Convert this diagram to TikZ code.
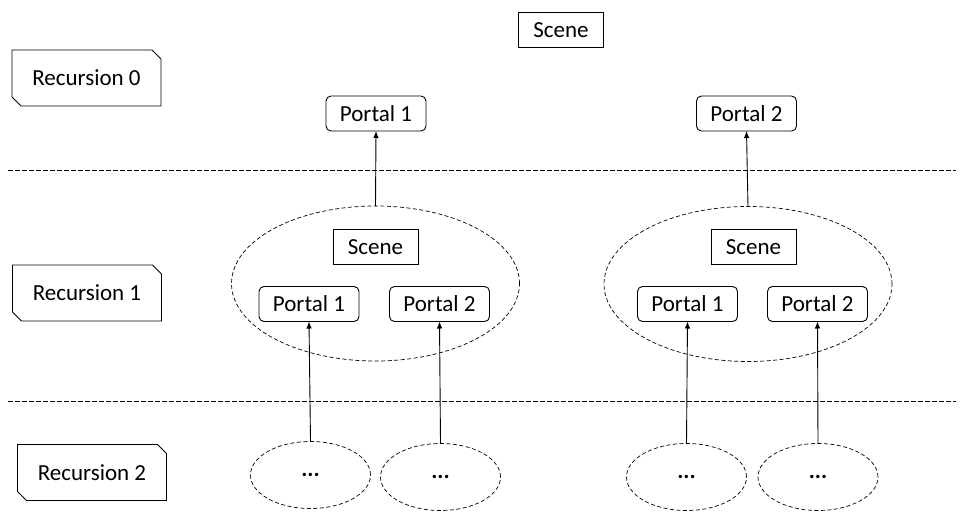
\documentclass[tikz,border=0pt]{standalone}
\usepackage{fontspec}
\setmainfont{Carlito}
\usetikzlibrary{shapes.geometric,shapes.misc,arrows.meta}
\begin{document}
\begin{tikzpicture}[x=1pt,y=-1pt,
  font=\fontsize{23}{27}\selectfont,
  every node/.style={inner sep=0pt, outer sep=0pt},
  scenebox/.style={draw, line width=0.9pt, minimum width=85pt, minimum height=35pt},
  portalbox/.style={draw, line width=0.9pt, rounded corners=5pt, minimum width=100pt, minimum height=35pt},
  recbox/.style={draw, line width=0.9pt, chamfered rectangle, chamfered rectangle corners={north east, south west},
    chamfered rectangle xsep=4.5pt, chamfered rectangle ysep=4.5pt, minimum width=149pt, minimum height=56pt},
  bigell/.style={draw, ellipse, dash pattern=on 4pt off 2.5pt, line width=0.7pt, minimum width=288pt, minimum height=155pt},
  smallell/.style={draw, ellipse, dash pattern=on 4pt off 2.5pt, line width=0.7pt, minimum width=120pt, minimum height=67pt},
  sep/.style={dash pattern=on 4.5pt off 2.5pt, line width=0.8pt},
  conn/.style={line width=0.9pt, -{Latex[length=7pt,width=5.5pt]}}
]
\useasboundingbox (0,0) rectangle (964,525);

% separators
\draw[sep] (8,170) -- (956,170);
\draw[sep] (8,401) -- (956,401);

% recursion labels
\node[recbox] (r0) at (86.5,78) {Recursion 0};
\node[recbox] (r1) at (87,293) {Recursion 1};
\node[recbox] (r2) at (92,472.5) {Recursion 2};

% level 0
\node[scenebox] (s0) at (561,30) {Scene};
\node[portalbox] (p01) at (376,113.5) {Portal 1};
\node[portalbox] (p02) at (746.5,113.5) {Portal 2};

% level 1
\node[bigell] (e1) at (375.5,283.5) {};
\node[bigell] (e2) at (748,284) {};
\node[scenebox] (s1) at (375.5,247) {Scene};
\node[scenebox] (s2) at (753.5,247) {Scene};
\node[portalbox] (p11) at (309,304) {Portal 1};
\node[portalbox] (p12) at (439.5,304) {Portal 2};
\node[portalbox] (p21) at (687.5,304) {Portal 1};
\node[portalbox] (p22) at (817.5,304) {Portal 2};

% level 2
\node[smallell] (e11) at (310.5,475) {\textbf{...}};
\node[smallell] (e12) at (440.5,477) {\textbf{...}};
\node[smallell] (e21) at (686.5,477) {\textbf{...}};
\node[smallell] (e22) at (818,477) {\textbf{...}};

% connectors
\draw[conn] (e1.north) -- (p01.south);
\draw[conn] (e2.north) -- (p02.south);
\draw[conn] (e11.north) -- (p11.south);
\draw[conn] (e12.north) -- (p12.south);
\draw[conn] (e21.north) -- (p21.south);
\draw[conn] (e22.north) -- (p22.south);
\end{tikzpicture}
\end{document}
